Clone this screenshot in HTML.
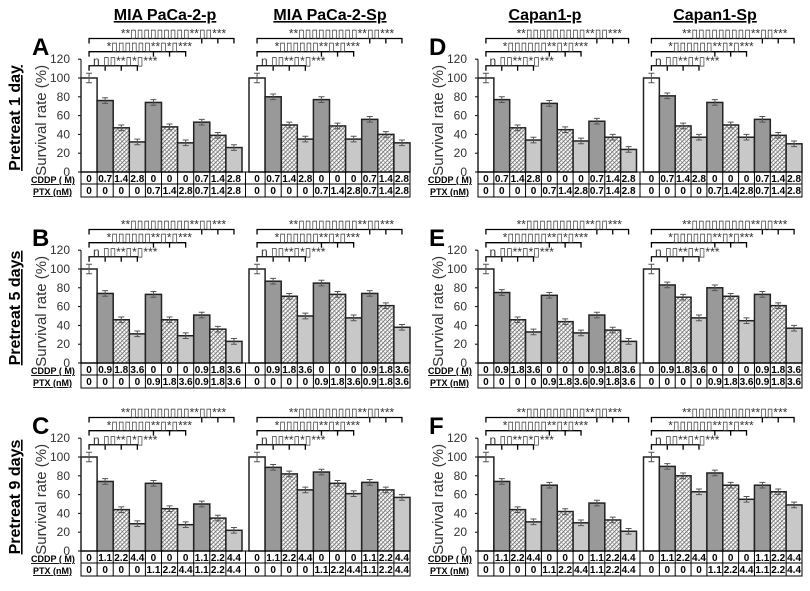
<!DOCTYPE html>
<html><head><meta charset="utf-8">
<style>
body{margin:0;background:#fff;}
svg{display:block;font-family:"Liberation Sans",Arial,sans-serif;}
</style></head>
<body>
<svg id="fig" width="810" height="591" viewBox="0 0 810 591" xmlns="http://www.w3.org/2000/svg">
<defs>
<pattern id="hatch" patternUnits="userSpaceOnUse" width="3" height="3" patternTransform="rotate(45)">
<rect width="3" height="3" fill="#fff"/><line x1="0" y1="0" x2="0" y2="3" stroke="#444" stroke-width="1.4"/><line x1="0" y1="1.5" x2="3" y2="1.5" stroke="#777" stroke-width="0.6"/>
</pattern>
</defs>
<g font-weight="bold" font-size="16" text-anchor="middle" text-decoration="underline">
<text x="165" y="20">MIA PaCa-2-p</text>
<text x="330" y="20">MIA PaCa-2-Sp</text>
<text x="545" y="20">Capan1-p</text>
<text x="715" y="20">Capan1-Sp</text>
</g>
<g font-weight="bold" font-size="16" text-anchor="middle" text-decoration="underline">
<text transform="translate(20,118) rotate(-90)">Pretreat 1 day</text>
<text transform="translate(20,308) rotate(-90)">Pretreat 5 days</text>
<text transform="translate(20,497) rotate(-90)">Pretreat 9 days</text>
</g>
<g id="panels"></g>
</svg>
<script>
const letters = ["A","D","B","E","C","F"];
const doses = [["0.7","1.4","2.8"],["0.7","1.4","2.8"],["0.9","1.8","3.6"],["0.9","1.8","3.6"],["1.1","2.2","4.4"],["1.1","2.2","4.4"]];
const seriesA = [100,76,47,32,74,48,31,53,39,26, 100,80,50,35,77,49,35,56,40,31];
const seriesD = [100,77,47,34,73,45,33,54,37,24, 100,81,49,37,74,50,37,56,39,30];
const seriesB = [100,74,46,31,73,46,29,51,36,23, 100,87,71,50,85,73,48,74,61,38];
const seriesE = [100,75,46,33,72,44,32,51,35,23, 100,83,70,48,80,71,45,73,61,37];
const seriesC = [100,74,44,29,72,45,28,50,35,22, 100,89,82,65,84,72,61,73,65,57];
const seriesF = [100,74,44,31,70,42,30,51,33,21, 100,90,80,63,83,70,55,70,63,49];
const allSeries = [seriesA,seriesD,seriesB,seriesE,seriesC,seriesF];
const yTicks = [0,20,40,60,80,100,120];
const bracketLevels = [113,128,142];

const geom = [[81,410,172],[478,802,172],[81,410,363],[478,802,363],[81,410,551],[478,802,551]];
const NS = "http://www.w3.org/2000/svg";
const root = document.getElementById("panels");
function mk(tag, attrs, parent, txt){
  const e = document.createElementNS(NS, tag);
  for (const k in attrs) e.setAttribute(k, attrs[k]);
  if (txt !== undefined) e.textContent = txt;
  parent.appendChild(e); return e;
}
const fills = ["#fff","#999","url(#hatch)","#c8c8c8","#999","url(#hatch)","#c8c8c8","#999","url(#hatch)","#c8c8c8"];

allSeries.forEach((vals, p) => {
  const [x0, x1, y0] = geom[p];
  const g = mk("g", {}, root);
  
  
  const ys = v => y0 - v * 0.94;
  const gw = (x1 - x0 - 7) / 2, bw = gw / 10;
  const bx = i => x0 + (i >= 10 ? gw + 7 : 0) + (i % 10) * bw;
  const L = mk("text", {x: x0 - 49, y: y0 - 117, "font-size": 24, "font-weight": "bold"}, g, letters[p]);
  
  
  const ax = mk("line", {x1: x0, y1: ys(0), x2: x0, y2: ys(120), stroke: "#000"}, g);
  
  
  yTicks.forEach(t => {
    mk("line", {x1: x0 - 3, x2: x0, y1: ys(t), y2: ys(t), stroke: "#000"}, g);
    const tl = mk("text", {x: x0 - 11, y: ys(t) + 4, "font-size": 12, "text-anchor": "end", fill: "#333"}, g, t);
    
    
  });
  const yt = mk("text", {transform: `translate(${x0 - 35},${ys(55)}) rotate(-90)`, "font-size": 15, "text-anchor": "middle", fill: "#333"}, g, "Survival rate (%)");
  
  
  vals.forEach((v, i) => {
    const b = mk("rect", {x: bx(i), y: ys(v), width: bw, height: ys(0) - ys(v), fill: fills[i % 10], stroke: "#222", "stroke-width": 1.5}, g);
    
    
    const cx = bx(i) + bw / 2, e = v > 90 ? 5 : 3;
    mk("path", {d: `M${cx},${ys(v + e)}V${ys(v - e)}M${cx - 3},${ys(v + e)}H${cx + 3}M${cx - 3},${ys(v - e)}H${cx + 3}`, stroke: "#555", fill: "none"}, g);
  });
  [0, 1].forEach(h => {
    bracketLevels.forEach((lv, k) => {
      const xa = bx(h * 10) + bw / 2, xe = bx(h * 10 + 3 * (k + 1)) + bw / 2, y = ys(lv);
      let d = `M${xa},${y + 5}V${y}H${xe}V${y + 5}`;
      for (let j = 1; j <= 2; j++) { const xm = bx(h * 10 + 3 * k + j) + bw / 2; d += `M${xm},${y}V${y + 5}`; }
      const br = mk("path", {d, stroke: "#000", fill: "none", "stroke-width": 1.3}, g);
      
      
      const st = mk("text", {x: (xa + xe) / 2 + 12, y: y - 1, "font-size": 12, "text-anchor": "middle", fill: "#333"}, g, k === 0 ? "n ▯▯**▯*▯***" : (k === 1 ? "*▯▯▯▯▯▯**▯*▯***" : "**▯▯▯▯▯▯▯▯▯**▯▯***"));
      
      
    });
  });
  const tb = mk("g", {}, g);
  
  
  const r1 = y0, r2 = y0 + 12, r3 = y0 + 25;
  mk("rect", {x: x0, y: r1, width: x1 - x0, height: r3 - r1, fill: "none", stroke: "#000"}, tb);
  mk("line", {x1: x0, x2: x1, y1: r2, y2: r2, stroke: "#000"}, tb);
  const d = doses[p];
  const cddp = ["0", d[0], d[1], d[2], "0", "0", "0", d[0], d[1], d[2]];
  const ptx = ["0", "0", "0", "0", d[0], d[1], d[2], d[0], d[1], d[2]];
  for (let i = 0; i < 20; i++) {
    if (i % 10) mk("line", {x1: bx(i), x2: bx(i), y1: r1, y2: r3, stroke: "#000"}, tb);
    const cx = bx(i) + bw / 2;
    mk("text", {x: cx, y: r2 - 2, "font-size": 10, "font-weight": "bold", "text-anchor": "middle"}, tb, cddp[i % 10]);
    mk("text", {x: cx, y: r3 - 3, "font-size": 10, "font-weight": "bold", "text-anchor": "middle"}, tb, ptx[i % 10]);
  }
  mk("line", {x1: bx(10) - 3.5, x2: bx(10) - 3.5, y1: r1, y2: r3, stroke: "#000"}, tb);
  mk("text", {x: x0 - 50, y: r2 - 1, "font-size": 9, "font-weight": "bold", "text-decoration": "underline"}, tb, "CDDP ( M)");
  mk("text", {x: x0 - 48, y: r3 - 2, "font-size": 9, "font-weight": "bold", "text-decoration": "underline"}, tb, "PTX (nM)");
});
</script>
</body></html>
